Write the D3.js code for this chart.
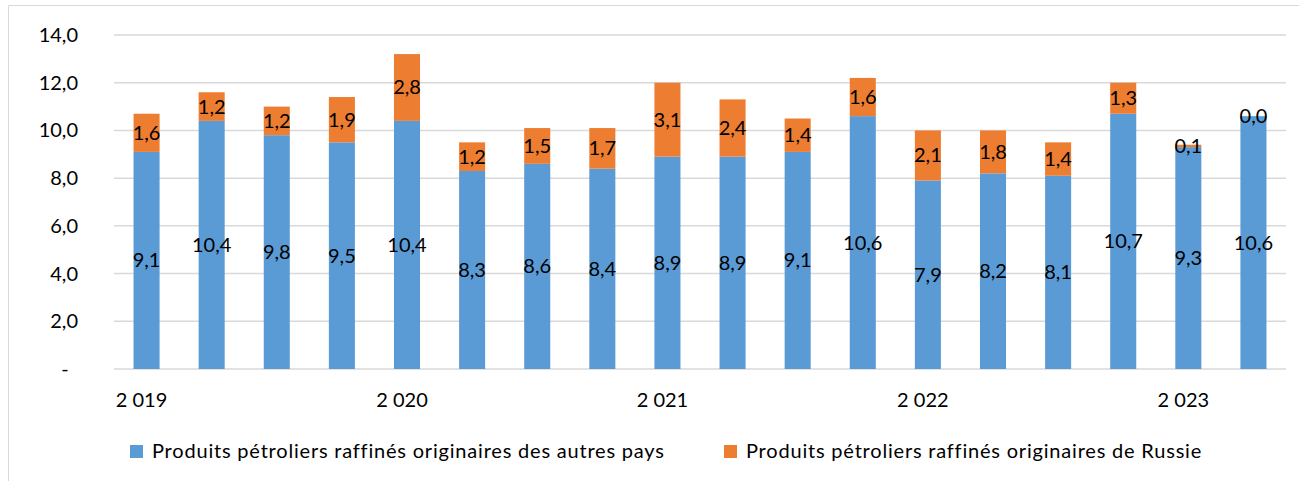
<!DOCTYPE html>
<html>
<head>
<meta charset="utf-8">
<script src="https://cdn.jsdelivr.net/npm/d3@7"></script>
<style>
  body { margin: 0; background: #fff; }
  text { font-family: Lato, "Open Sans", sans-serif; fill: #000; }
</style>
</head>
<body>
<script>
// data
var quarters = ["2019T1","2019T2","2019T3","2019T4","2020T1","2020T2","2020T3","2020T4",
  "2021T1","2021T2","2021T3","2021T4","2022T1","2022T2","2022T3","2022T4","2023T1","2023T2"];
var autresPays = [9.1,10.4,9.8,9.5,10.4,8.3,8.6,8.4,8.9,8.9,9.1,10.6,7.9,8.2,8.1,10.7,9.3,10.6];
var russie = [1.6,1.2,1.2,1.9,2.8,1.2,1.5,1.7,3.1,2.4,1.4,1.6,2.1,1.8,1.4,1.3,0.1,0.0];
var yearLabels = {"2019T1":"2 019","2020T1":"2 020","2021T1":"2 021","2022T1":"2 022","2023T1":"2 023"};
var yTicks = [0,2,4,6,8,10,12,14];
var seriesNames = ["Produits pétroliers raffinés originaires des autres pays",
  "Produits pétroliers raffinés originaires de Russie"];
var colors = ["#5b9bd5","#ed7d31"];

var width = 1299, height = 481;
var fmt = function(v) { return v.toFixed(1).replace(".", ","); };

var svg = d3.select("body").append("svg")
    .attr("width", width)
    .attr("height", height);

// chart frame
svg.append("path")
    .attr("d", "M8.5," + height + "V5.5H" + width)
    .attr("fill", "none")
    .attr("stroke", "#d9d9d9")
    .attr("stroke-width", 1);

var x = d3.scaleBand().domain(quarters).range([114, 1286]).paddingInner(0.6).paddingOuter(0.3);
var y = d3.scaleLinear().domain([0, 14]).range([369, 35]);

// gridlines
svg.append("g").selectAll("line")
  .data(yTicks)
  .enter().append("line")
    .attr("x1", 114).attr("x2", 1286)
    .attr("y1", function(d) { return y(d); })
    .attr("y2", function(d) { return y(d); })
    .attr("stroke", "#d9d9d9")
    .attr("stroke-width", 1.5);

// y labels
svg.append("g").selectAll("text")
  .data(yTicks)
  .enter().append("text")
    .attr("x", function(d) { return d === 0 ? 65 : 78; })
    .attr("y", function(d) { return y(d) + 7; })
    .attr("text-anchor", function(d) { return d === 0 ? "middle" : "end"; })
    .style("font-size", "20px")
    .text(function(d) { return d === 0 ? "-" : fmt(d); });

// stacked data
var rows = quarters.map(function(q, i) {
  return { q: q, a: autresPays[i], r: russie[i] };
});

var bars = svg.append("g");
bars.selectAll("rect.a")
  .data(rows)
  .enter().append("rect")
    .attr("class", "a")
    .attr("x", function(d) { return x(d.q); })
    .attr("width", x.bandwidth())
    .attr("y", function(d) { return y(d.a); })
    .attr("height", function(d) { return y(0) - y(d.a); })
    .attr("fill", colors[0]);

bars.selectAll("rect.r")
  .data(rows)
  .enter().append("rect")
    .attr("class", "r")
    .attr("x", function(d) { return x(d.q); })
    .attr("width", x.bandwidth())
    .attr("y", function(d) { return y(d.a + d.r); })
    .attr("height", function(d) { return y(d.a) - y(d.a + d.r); })
    .attr("fill", colors[1]);

// value labels
var labels = svg.append("g").style("font-size", "20px").attr("text-anchor", "middle");
labels.selectAll("text.a")
  .data(rows)
  .enter().append("text")
    .attr("x", function(d) { return x(d.q) + x.bandwidth() / 2; })
    .attr("y", function(d) { return y(d.a / 2) + 7; })
    .text(function(d) { return fmt(d.a); });

labels.selectAll("text.r")
  .data(rows)
  .enter().append("text")
    .attr("x", function(d) { return x(d.q) + x.bandwidth() / 2; })
    .attr("y", function(d) { return y(d.a + d.r / 2) + 7; })
    .text(function(d) { return fmt(d.r); });

// x labels (years)
svg.append("g").selectAll("text")
  .data(quarters.filter(function(q) { return yearLabels[q]; }))
  .enter().append("text")
    .attr("x", function(d) { return x(d) + x.bandwidth() / 2 - 5; })
    .attr("y", 407)
    .attr("text-anchor", "middle")
    .style("font-size", "20px")
    .text(function(d) { return yearLabels[d]; });

// legend
var legendX = [130, 724];
var legend = svg.append("g");
seriesNames.forEach(function(name, i) {
  legend.append("rect")
    .attr("x", legendX[i]).attr("y", 445)
    .attr("width", 13).attr("height", 13)
    .attr("fill", colors[i]);
  legend.append("text")
    .attr("x", legendX[i] + 22).attr("y", 458)
    .style("font-size", "20px")
    .style("letter-spacing", "0.8px")
    .text(name);
});
</script>
</body>
</html>
